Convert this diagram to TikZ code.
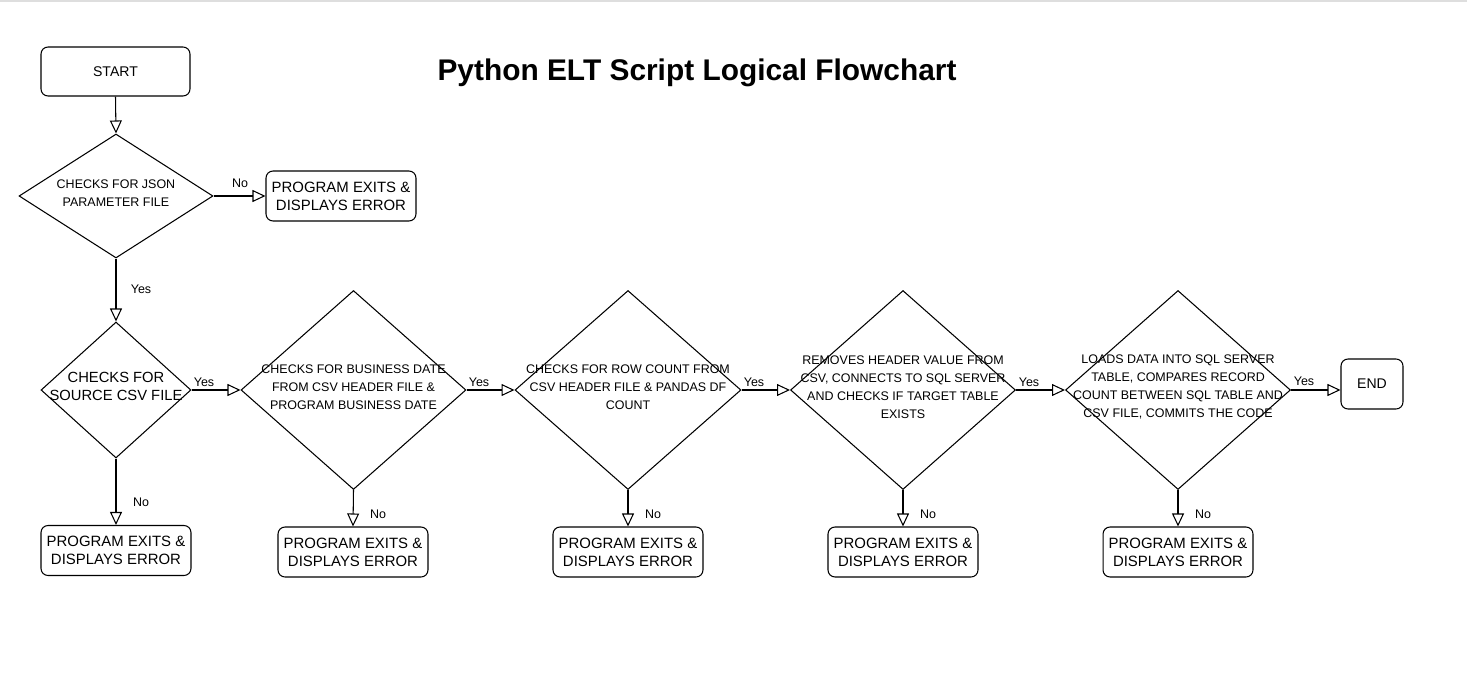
\documentclass[tikz,border=0pt]{standalone}
\usepackage{fontspec}
\setmainfont{Liberation Sans}
\usetikzlibrary{shapes.geometric,arrows.meta}

\begin{document}
\begin{tikzpicture}[x=0.02cm, y=-0.02cm, line width=0.6pt,
  box/.style={draw, rounded corners=4pt, minimum width=3cm, minimum height=1cm, inner sep=0pt, align=center, font=\fontsize{8.5}{10.2}\selectfont},
  decision/.style={draw, diamond, inner sep=0pt},
  dtext/.style={align=center, inner sep=0pt, yshift=1.7pt, font=\fontsize{7.1}{10.2}\selectfont},
  lbl/.style={inner sep=0pt, font=\fontsize{7.1}{8.5}\selectfont},
  flow/.style={-{Triangle[open, length=7.4pt, width=6.8pt]}}]
\useasboundingbox (0,0) rectangle (1467,682);
\draw[black!13, line width=1.1pt] (0,1) -- (1467,1);

\node[anchor=base, font=\fontsize{17}{20}\selectfont\bfseries] (title) at (697,81) {Python ELT Script Logical Flowchart};

% first column
\node[box, minimum width=2.98cm, minimum height=0.98cm, font=\fontsize{8}{9.6}\selectfont] (start) at (115.5,71.5) {START};
\node[decision, minimum width=3.88cm, minimum height=2.48cm, label={[dtext]center:{CHECKS FOR JSON\\PARAMETER FILE}}] (json) at (116,196) {};
\node[box] (err1) at (341,196) {PROGRAM EXITS \&\\DISPLAYS ERROR};
\node[decision, minimum width=3cm, minimum height=2.72cm, label={[dtext, yshift=0.6pt, font=\fontsize{8.4}{10.2}\selectfont]center:{CHECKS FOR\\SOURCE CSV FILE}}] (csv) at (116,390) {};
\node[box] (err2) at (116,550.5) {PROGRAM EXITS \&\\DISPLAYS ERROR};

% main row
\node[decision, minimum width=4.5cm, minimum height=3.98cm, label={[dtext]center:{CHECKS FOR BUSINESS DATE\\FROM CSV HEADER FILE \&\\PROGRAM BUSINESS DATE}}] (bizdate) at (353.5,390) {};
\node[box] (err3) at (353,552) {PROGRAM EXITS \&\\DISPLAYS ERROR};

\node[decision, minimum width=4.52cm, minimum height=3.98cm, label={[dtext]center:{CHECKS FOR ROW COUNT FROM\\CSV HEADER FILE \& PANDAS DF\\COUNT}}] (rowcount) at (628,390) {};
\node[box] (err4) at (628,552) {PROGRAM EXITS \&\\DISPLAYS ERROR};

\node[decision, minimum width=4.5cm, minimum height=3.98cm, label={[dtext]center:{REMOVES HEADER VALUE FROM\\CSV, CONNECTS TO SQL SERVER\\AND CHECKS IF TARGET TABLE\\EXISTS}}] (sqlcheck) at (903,390) {};
\node[box] (err5) at (903,552) {PROGRAM EXITS \&\\DISPLAYS ERROR};

\node[decision, minimum width=4.5cm, minimum height=3.98cm, label={[dtext]center:{LOADS DATA INTO SQL SERVER\\TABLE, COMPARES RECORD\\COUNT BETWEEN SQL TABLE AND\\CSV FILE, COMMITS THE CODE}}] (load) at (1178,390) {};
\node[box] (err6) at (1178,552) {PROGRAM EXITS \&\\DISPLAYS ERROR};

\node[box, minimum width=1.24cm, font=\fontsize{8}{9.6}\selectfont] (endbox) at (1372,384) {END};

\draw[flow] (start.south) -- (json.north);
\draw[flow] (json.east) -- (err1.west);
\draw[flow] (json.south) -- (csv.north);
\draw[flow] (csv.south) -- (err2.north);
\draw[flow] (csv.east) -- (bizdate.west);
\draw[flow] (bizdate.south) -- (err3.north);
\draw[flow] (bizdate.east) -- (rowcount.west);
\draw[flow] (rowcount.south) -- (err4.north);
\draw[flow] (rowcount.east) -- (sqlcheck.west);
\draw[flow] (sqlcheck.south) -- (err5.north);
\draw[flow] (sqlcheck.east) -- (load.west);
\draw[flow] (load.south) -- (err6.north);
\draw[flow] (load.east) -- (load.east -| endbox.west);

\node[lbl] (no1) at (240,183) {No};
\node[lbl] (yes1) at (141,289) {Yes};
\node[lbl] (no2) at (141,502) {No};
\node[lbl] (yes2) at (204,382) {Yes};
\node[lbl] (no3) at (378,514) {No};
\node[lbl] (yes3) at (479,382) {Yes};
\node[lbl] (no4) at (653,514) {No};
\node[lbl] (yes4) at (754,382) {Yes};
\node[lbl] (no5) at (928,514) {No};
\node[lbl] (yes5) at (1029,382) {Yes};
\node[lbl] (no6) at (1203,514) {No};
\node[lbl] (yes6) at (1304,381) {Yes};

\end{tikzpicture}
\end{document}
